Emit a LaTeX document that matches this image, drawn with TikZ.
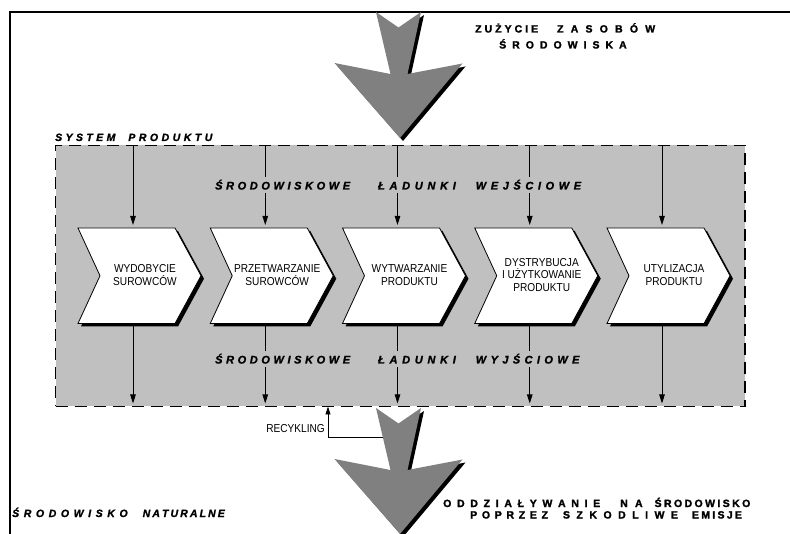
\documentclass[tikz,border=0pt]{standalone}
\usepackage{fontspec}
\setmainfont{Liberation Sans}
\newfontfamily\chevfont[FakeStretch=0.88]{Liberation Sans}
\newfontfamily\heavyfont[FakeBold=1.8]{Liberation Sans Bold}
\newfontfamily\heavyitfont[FakeBold=1.5]{Liberation Sans Bold Italic}
\usetikzlibrary{arrows.meta}
\definecolor{sysgray}{RGB}{192,192,192}
\definecolor{arrgray}{RGB}{128,128,128}
\makeatletter
\newcommand\lsp[2]{\def\lsp@k{#1}\lsp@loop#2\relax\kern-#1\relax}
\def\lsp@loop#1{\ifx\relax#1\else#1\kern\lsp@k\relax\expandafter\lsp@loop\fi}
\makeatother
\tikzset{
  frameline/.style={line width=1.5pt, draw=black},
  sysbox/.style={draw=black, fill=sysgray, line width=1.3pt, dash pattern=on 12pt off 7pt,
    minimum width=689.5pt, minimum height=261pt, inner sep=0pt, outer sep=0pt},
  flowarrow/.style={line width=0.9pt, -{Triangle[length=9pt,width=5.5pt]}, shorten >=3pt},
  recarrow/.style={line width=0.8pt, -{Triangle[length=8pt,width=5pt]}},
  chevtext/.style={font=\chevfont\fontsize{11.5}{12.6}\selectfont, align=center, inner sep=0pt},
  sidetext/.style={font=\heavyitfont\fontsize{10.5}{12}\selectfont, inner sep=0pt, anchor=base west},
  loadlabel/.style={font=\heavyitfont\fontsize{11}{12}\selectfont, fill=sysgray,
    inner xsep=2pt, inner ysep=3pt, anchor=base west},
  headtext/.style={font=\heavyfont\fontsize{10.5}{12}\selectfont, inner sep=0pt, anchor=base west},
  chevron/.pic={
    \fill[black] (3,3) -- (100,3) -- (126,50.75) -- (100,98.5) -- (3,98.5) -- (25,50.75) -- cycle;
    \filldraw[fill=white, draw=black, line width=0.8pt]
      (0,0) -- (97,0) -- (123,47.75) -- (97,95.5) -- (0,95.5) -- (22,47.75) -- cycle;
    \node[chevtext] (-txt) at (67,47) {#1};
    \coordinate (-top) at (55,0);
    \coordinate (-bot) at (55,95.5);
  },
  bigarrow/.pic={
    \fill[black, shift={(3,3)}] (-24,0) -- (-1.5,15.5) -- (21,0) -- (7.5,62) -- (62.5,51.5)
      -- (0,126) -- (-65.5,51) -- (-9.5,62) -- cycle;
    \fill[arrgray] (-24,0) -- (-1.5,15.5) -- (21,0) -- (7.5,62) -- (62.5,51.5)
      -- (0,126) -- (-65.5,51) -- (-9.5,62) -- cycle;
    \coordinate (-lshaft) at (-17.2,29);
  }
}
\begin{document}
\begin{tikzpicture}[x=1pt,y=-1pt]
\useasboundingbox (0,0) rectangle (790,534);
% outer frame
\draw[frameline] (10,534) -- (10,12) -- (790,12);
% product system
\node[sysbox] (sys) at (400.25,276) {};
% big arrows
\pic (use) at (400,12) {bigarrow};
\pic (emis) at (400,408) {bigarrow};
% chevrons
\pic (c1) at (78,228) {chevron={WYDOBYCIE\\SUROWCÓW}};
\pic (c2) at (210.25,228) {chevron={PRZETWARZANIE\\SUROWCÓW}};
\pic (c3) at (342.5,228) {chevron={WYTWARZANIE\\PRODUKTU}};
\pic (c4) at (474.75,228) {chevron={DYSTRYBUCJA\\I UŻYTKOWANIE\\PRODUKTU}};
\pic (c5) at (607,228) {chevron={UTYLIZACJA\\PRODUKTU}};
% inputs and outputs
\foreach \c in {c1,c2,c3,c4,c5}{
  \draw[flowarrow] (sys.north -| \c-top) -- (\c-top);
  \draw[flowarrow] (\c-bot) -- (\c-bot |- sys.south);
}
% labels
\node[loadlabel] (inlab) at (213,189.5)
  {\lsp{3.6pt}{ŚRODOWISKOWE}\hspace{28pt}\lsp{4.7pt}{ŁADUNKI}\hspace{20pt}\lsp{4.6pt}{WEJŚCIOWE}};
\node[loadlabel] (outlab) at (213,363.5)
  {\lsp{3.6pt}{ŚRODOWISKOWE}\hspace{28pt}\lsp{4.7pt}{ŁADUNKI}\hspace{20pt}\lsp{4.4pt}{WYJŚCIOWE}};
\node[sidetext] (syslab) at (55,141) {\lsp{3.4pt}{SYSTEM}\hspace{13pt}\lsp{3.5pt}{PRODUKTU}};
\node[sidetext] (envlab) at (12,517) {\lsp{4.6pt}{ŚRODOWISKO}\hspace{15pt}\lsp{2.1pt}{NATURALNE}};
% titles
\node[headtext] (res1) at (475,32.5) {\lsp{3.0pt}{ZUŻYCIE}\hspace{19pt}\lsp{7.2pt}{ZASOBÓW}};
\node[headtext] (res2) at (499,48.5) {\lsp{6.0pt}{ŚRODOWISKA}};
\node[headtext] (emi1) at (443,507)
  {\lsp{5.7pt}{ODDZIAŁYWANIE}\hspace{20pt}\lsp{7.2pt}{NA}\hspace{12pt}\lsp{2.4pt}{ŚRODOWISKO}};
\node[headtext] (emi2) at (470,518.5)
  {\lsp{4.7pt}{POPRZEZ}\hspace{15pt}\lsp{6.5pt}{SZKODLIWE}\hspace{14pt}\lsp{2.3pt}{EMISJE}};
% recycling
\coordinate (recturn) at (328,437);
\draw[recarrow] (emis-lshaft) -- (recturn) -- (recturn |- sys.south);
\node[font=\chevfont\fontsize{11.5}{12}\selectfont, anchor=base east, inner sep=0pt] (reclab)
  at (325,432.5) {RECYKLING};
\end{tikzpicture}
\end{document}
